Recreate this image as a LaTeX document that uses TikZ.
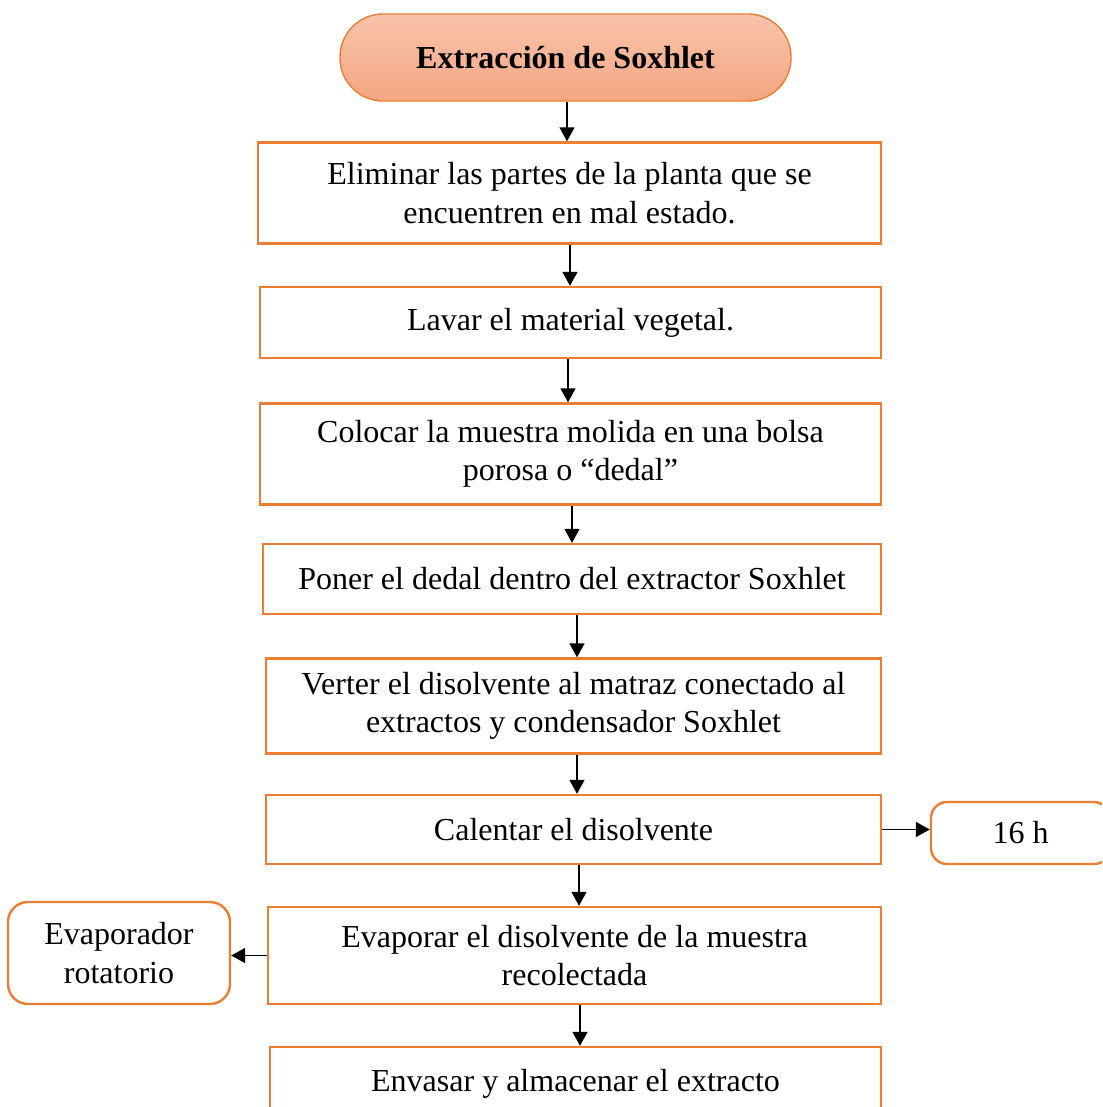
\documentclass[tikz,border=0pt]{standalone}
\usepackage{fontspec}
\setmainfont{Liberation Serif}
\usetikzlibrary{arrows.meta}
\definecolor{boxline}{HTML}{ED7D31}
\definecolor{gradtop}{HTML}{F8C4AB}
\definecolor{gradbot}{HTML}{F4A682}
\begin{document}
\begin{tikzpicture}[x=1pt,y=-1pt,
  every node/.style={font=\fontsize{32}{38.5}\selectfont, align=center, inner sep=0pt},
  stepbox/.style={draw=boxline, line width=2.4pt, rectangle},
  sidebox/.style={draw=boxline, line width=2.4pt, rectangle, rounded corners=16pt},
  startbox/.style={draw=boxline, line width=1.4pt, rectangle, rounded corners=43pt,
    top color=gradtop, bottom color=gradbot},
  arr/.style={line width=1.5pt, -{Triangle[length=14pt,width=15pt]}}]
\useasboundingbox (0,0) rectangle (1102,1107);
\clip (0,0) rectangle (1102,1107);

% process steps
\node[startbox, minimum width=451pt, minimum height=87pt] (t) at (565.5,57.5)
  {\textbf{Extracción de Soxhlet}};
\node[stepbox, minimum width=623pt, minimum height=101pt] (b1) at (569.5,193)
  {Eliminar las partes de la planta que se\\ encuentren en mal estado.};
\node[stepbox, minimum width=621pt, minimum height=71pt] (b2) at (570.5,322.5)
  {Lavar el material vegetal.};
\node[stepbox, minimum width=621pt, minimum height=101pt] (b3) at (570.5,454)
  {Colocar la muestra molida en una bolsa\\ porosa o “dedal”};
\node[stepbox, minimum width=618pt, minimum height=70pt] (b4) at (572,579)
  {Poner el dedal dentro del extractor Soxhlet};
\node[stepbox, minimum width=615pt, minimum height=95pt] (b5) at (573.5,706)
  {Verter el disolvente al matraz conectado al\\ extractos y condensador Soxhlet};
\node[stepbox, minimum width=615pt, minimum height=69pt] (b6) at (573.5,829.5)
  {Calentar el disolvente};
\node[stepbox, minimum width=613pt, minimum height=97pt] (b7) at (574.5,955.5)
  {Evaporar el disolvente de la muestra\\ recolectada};
\node[stepbox, minimum width=611pt, minimum height=73pt] (b8) at (575.5,1083.5)
  {Envasar y almacenar el extracto};

% side notes
\node[sidebox, minimum width=179pt, minimum height=62pt] (h) at (1020.5,833) {16 h};
\node[sidebox, minimum width=222pt, minimum height=102pt, rounded corners=20pt] (ev) at (119,953)
  {Evaporador\\ rotatorio};

% arrow columns
\coordinate (a1) at (567,0);
\coordinate (a2) at (570,0);
\coordinate (a3) at (568,0);
\coordinate (a4) at (572,0);
\coordinate (a5) at (577,0);
\coordinate (a6) at (577,0);
\coordinate (a7) at (579,0);
\coordinate (a8) at (580,0);

\draw[arr] (t.south -| a1) -- (b1.north -| a1);
\draw[arr] (b1.south -| a2) -- (b2.north -| a2);
\draw[arr] (b2.south -| a3) -- (b3.north -| a3);
\draw[arr] (b3.south -| a4) -- (b4.north -| a4);
\draw[arr] (b4.south -| a5) -- (b5.north -| a5);
\draw[arr] (b5.south -| a6) -- (b6.north -| a6);
\draw[arr] (b6.south -| a7) -- (b7.north -| a7);
\draw[arr] (b7.south -| a8) -- (b8.north -| a8);

\draw[arr] (b6.east) -- (h.west |- b6.east);
\draw[arr] (b7.west) -- (ev.east |- b7.west);
\end{tikzpicture}
\end{document}
